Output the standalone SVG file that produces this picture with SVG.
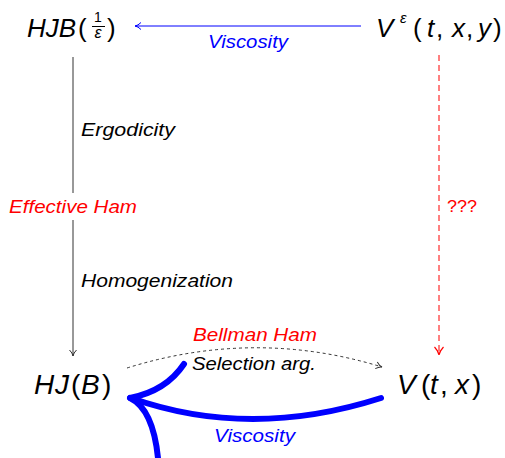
<svg xmlns="http://www.w3.org/2000/svg" width="505" height="458" viewBox="0 0 505 458">
<style>
text{font-family:"Liberation Sans",Arial,sans-serif;}
.m{font-style:italic;}
.u{font-style:normal;}
.lbl{font-size:18px;font-style:italic;}
</style>
<defs>
<marker id="ab" markerWidth="10" markerHeight="10" refX="8" refY="5" orient="auto" markerUnits="userSpaceOnUse">
<path d="M2,1.5 Q5,4.5 8,5 Q5,5.5 2,8.5" fill="none" stroke="#0000ff" stroke-width="1"/>
</marker>
<marker id="ak" markerWidth="10" markerHeight="10" refX="8" refY="5" orient="auto" markerUnits="userSpaceOnUse">
<path d="M2,1.5 Q5,4.5 8,5 Q5,5.5 2,8.5" fill="none" stroke="#333" stroke-width="1"/>
</marker>
<marker id="ar" markerWidth="12" markerHeight="12" refX="10" refY="6" orient="auto" markerUnits="userSpaceOnUse">
<path d="M2,1.5 Q6,5.3 10,6 Q6,6.7 2,10.5" fill="none" stroke="#ff0000" stroke-width="1.2"/>
</marker>
</defs>

<g id="connectors">
<line x1="361" y1="26" x2="135" y2="26" stroke="#0000ff" stroke-width="1" marker-end="url(#ab)"/>
<line x1="73" y1="57" x2="73" y2="193" stroke="#333" stroke-width="1"/>
<line x1="73" y1="220" x2="73" y2="356" stroke="#333" stroke-width="1" marker-end="url(#ak)"/>
<line x1="439" y1="55" x2="439" y2="355" stroke="#ff0000" stroke-width="1" stroke-dasharray="6,4" marker-end="url(#ar)"/>
<path d="M127,368 Q255,328 382,367" fill="none" stroke="#000" stroke-width="0.8" stroke-dasharray="3,3" marker-end="url(#ak)"/>
<g fill="none" stroke="#0000ff" stroke-width="6" stroke-linecap="round">
<path d="M381,398 Q250,440 131,398"/>
<path d="M130,398 Q166,391 184,364"/>
<path d="M130,398 Q153,409 158,458"/>
</g>
<text class="lbl" x="248" y="48" fill="#0000ff" text-anchor="middle" textLength="80" lengthAdjust="spacingAndGlyphs">Viscosity</text>
<text class="lbl" x="81" y="136" fill="#000" textLength="94" lengthAdjust="spacingAndGlyphs">Ergodicity</text>
<text class="lbl" x="9" y="213" fill="#ff0000" textLength="128" lengthAdjust="spacingAndGlyphs">Effective Ham</text>
<text class="lbl" x="81" y="287" fill="#000" textLength="152" lengthAdjust="spacingAndGlyphs">Homogenization</text>
<text x="447" y="212" fill="#ff0000" font-size="17" textLength="30" lengthAdjust="spacingAndGlyphs">???</text>
<text class="lbl" x="193" y="341" fill="#ff0000" textLength="124" lengthAdjust="spacingAndGlyphs">Bellman Ham</text>
<text class="lbl" x="192" y="370" fill="#000" textLength="124" lengthAdjust="spacingAndGlyphs">Selection arg.</text>
<text class="lbl" x="214" y="442" fill="#0000ff" textLength="81" lengthAdjust="spacingAndGlyphs">Viscosity</text>
</g>

<g id="node-hjb">
<text x="27" y="37" font-size="26" class="m">HJB<tspan class="u" x="78">(</tspan></text>
<text x="98" y="22" font-size="14" text-anchor="middle">1</text>
<line x1="92" y1="26.5" x2="105" y2="26.5" stroke="#000" stroke-width="1"/>
<text x="98" y="37.5" font-size="16" class="m" text-anchor="middle">ε</text>
<text x="107" y="37" font-size="26">)</text>
</g>

<g id="node-veps">
<text y="37" font-size="26"><tspan class="m" x="376">V</tspan><tspan class="m" x="400" y="23" font-size="15">ε</tspan><tspan x="413" y="37">(</tspan><tspan class="m" x="427">t</tspan><tspan x="436">,</tspan><tspan class="m" x="452">x</tspan><tspan x="466">,</tspan><tspan class="m" x="478">y</tspan><tspan x="493">)</tspan></text>
</g>

<g id="node-hjb0">
<text y="394" font-size="28"><tspan class="m" x="34">H</tspan><tspan class="m" x="55">J</tspan><tspan x="71">(</tspan><tspan class="m" x="81">B</tspan><tspan x="102">)</tspan></text>
</g>

<g id="node-v">
<text y="394" font-size="28"><tspan class="m" x="397">V</tspan><tspan x="421">(</tspan><tspan class="m" x="430">t</tspan><tspan x="440">,</tspan><tspan class="m" x="455">x</tspan><tspan x="472">)</tspan></text>
</g>
</svg>
